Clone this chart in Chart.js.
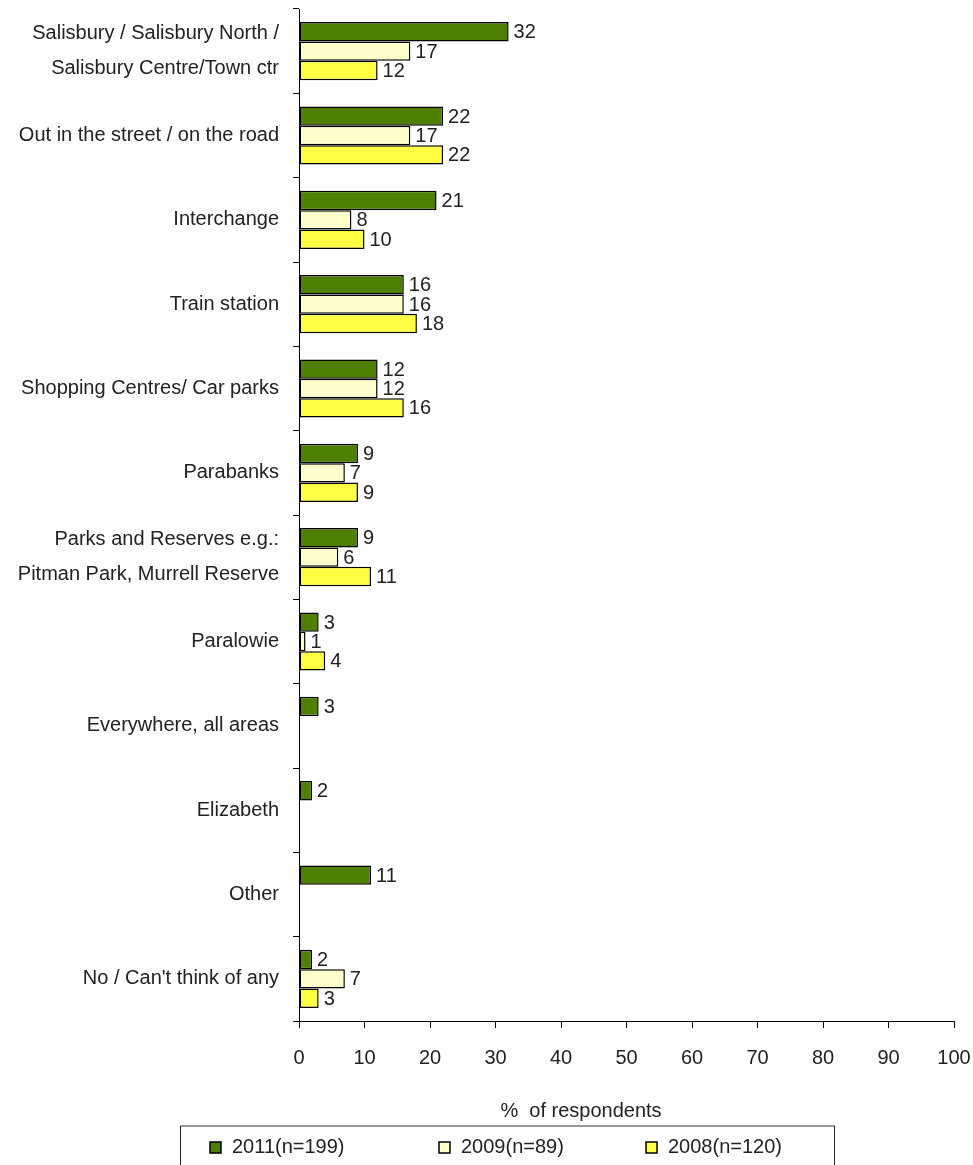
<!DOCTYPE html>
<html>
<head>
<meta charset="utf-8">
<script src="https://cdn.jsdelivr.net/npm/chart.js@4"></script>
<style>
  html, body { margin: 0; padding: 0; background: #fff; }
  #wrap { width: 973px; height: 1165px; position: relative; }
</style>
</head>
<body>
<div id="wrap"><canvas id="chart"></canvas></div>
<script>
const FONT = "'Liberation Sans Narrow', 'Arial Narrow', 'Liberation Sans', sans-serif";

const places = [
  ["Salisbury / Salisbury North /", "Salisbury Centre/Town ctr"],
  "Out in the street / on the road",
  "Interchange",
  "Train station",
  "Shopping Centres/ Car parks",
  "Parabanks",
  ["Parks and Reserves e.g.:", "Pitman Park, Murrell Reserve"],
  "Paralowie",
  "Everywhere, all areas",
  "Elizabeth",
  "Other",
  "No / Can't think of any",
];

const y2011 = [32, 22, 21, 16, 12, 9, 9, 3, 3, 2, 11, 2];
const y2009 = [17, 17, 8, 16, 12, 7, 6, 1, null, null, null, 7];
const y2008 = [12, 22, 10, 18, 16, 9, 11, 4, null, null, null, 3];

const seriesNames = ["2011(n=199)", "2009(n=89)", "2008(n=120)"];
const seriesColors = ["#4f7f00", "#ffffcc", "#ffff44"];
const xTicks = [0, 10, 20, 30, 40, 50, 60, 70, 80, 90, 100];

// value labels at the end of each bar
const valueLabels = {
  id: "valueLabels",
  afterDatasetsDraw(chart) {
    const ctx = chart.ctx;
    ctx.save();
    ctx.font = "20px " + FONT;
    ctx.fillStyle = "#222";
    ctx.textBaseline = "middle";
    ctx.textAlign = "left";
    chart.data.datasets.forEach((ds, i) => {
      const meta = chart.getDatasetMeta(i);
      meta.data.forEach((bar, j) => {
        const v = ds.data[j];
        if (v == null) return;
        ctx.fillText(String(v), bar.x + 5, bar.y + 1);
      });
    });
    ctx.restore();
  },
};

// axis caption and boxed legend under the chart
const footer = {
  id: "footer",
  afterDraw(chart) {
    const ctx = chart.ctx;
    ctx.save();
    ctx.font = "20px " + FONT;
    ctx.fillStyle = "#222";
    ctx.textBaseline = "middle";
    ctx.textAlign = "center";
    ctx.fillText("%  of respondents", 581, 1111);

    ctx.strokeStyle = "#777";
    ctx.lineWidth = 1.5;
    ctx.beginPath();
    ctx.moveTo(180, 1126);
    ctx.lineTo(835, 1126);
    ctx.stroke();
    ctx.strokeStyle = "#222";
    ctx.lineWidth = 1;
    ctx.beginPath();
    ctx.moveTo(180.5, 1126);
    ctx.lineTo(180.5, 1166);
    ctx.moveTo(834.5, 1126);
    ctx.lineTo(834.5, 1166);
    ctx.stroke();

    const itemX = [210, 439, 646];
    ctx.textAlign = "left";
    chart.data.datasets.forEach((ds, i) => {
      ctx.fillStyle = ds.backgroundColor;
      ctx.fillRect(itemX[i], 1142, 11, 11);
      ctx.strokeStyle = "#000";
      ctx.lineWidth = 1.5;
      ctx.strokeRect(itemX[i], 1142, 11, 11);
      ctx.fillStyle = "#222";
      ctx.fillText(ds.label, itemX[i] + 22, 1147);
    });
    ctx.restore();
  },
};

const datasets = [y2011, y2009, y2008].map((d, i) => ({
  label: seriesNames[i],
  data: d,
  backgroundColor: seriesColors[i],
  borderColor: "#000",
  borderWidth: 1.5,
  borderSkipped: false,
  categoryPercentage: 0.69,
  barPercentage: 1.0,
}));

new Chart(document.getElementById("chart"), {
  type: "bar",
  data: { labels: places, datasets },
  options: {
    indexAxis: "y",
    responsive: true,
    maintainAspectRatio: false,
    animation: false,
    layout: { padding: { top: 9, right: 19, left: 0, bottom: 100 } },
    plugins: {
      legend: { display: false },
      tooltip: { enabled: false },
    },
    scales: {
      x: {
        min: 0,
        max: 100,
        afterBuildTicks(scale) {
          scale.ticks = xTicks.map((v) => ({ value: v }));
        },
        afterFit(scale) {
          scale.height = 44;
          scale.paddingLeft = 0;
          scale.paddingRight = 0;
        },
        grid: {
          drawOnChartArea: false,
          drawTicks: true,
          tickLength: 7,
          color: "#000",
        },
        border: { color: "#000", width: 1 },
        ticks: {
          color: "#222",
          padding: 18,
          font: { family: FONT, size: 20 },
          maxRotation: 0,
        },
      },
      y: {
        afterFit(scale) {
          scale.width = 299;
          scale.paddingTop = 0;
          scale.paddingBottom = 0;
        },
        grid: {
          offset: true,
          drawOnChartArea: false,
          drawTicks: true,
          tickLength: 6,
          color: "#000",
        },
        border: { color: "#000", width: 1 },
        ticks: {
          color: "#222",
          padding: 14,
          font: { family: FONT, size: 20, lineHeight: 1.75 },
        },
      },
    },
  },
  plugins: [valueLabels, footer],
});
</script>
</body>
</html>
